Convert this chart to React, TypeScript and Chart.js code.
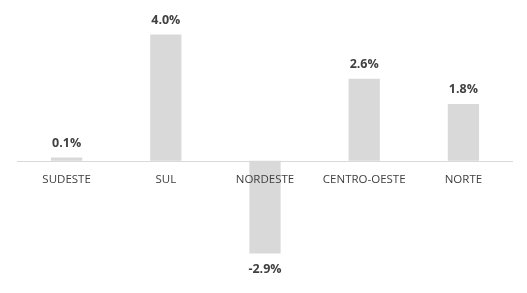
import React, { useEffect, useRef } from "react";
import { Chart, registerables } from "chart.js";

Chart.register(...registerables);

const categories = ["SUDESTE", "SUL", "NORDESTE", "CENTRO-OESTE", "NORTE"];
const values = [0.1, 4.0, -2.94, 2.6, 1.8];
const valueLabels = ["0.1%", "4.0%", "-2.9%", "2.6%", "1.8%"];

const FONT = "'Open Sans', 'Noto Sans', sans-serif";
const TEXT = "#404040";

const labelPlugin = {
  id: "labelPlugin",
  beforeDatasetsDraw(chart: any) {
    const { ctx, chartArea, scales } = chart;
    const y0 = Math.round(scales.y.getPixelForValue(0)) + 0.5;
    ctx.save();
    ctx.strokeStyle = "#d9d9d9";
    ctx.lineWidth = 1;
    ctx.beginPath();
    ctx.moveTo(chartArea.left, y0);
    ctx.lineTo(chartArea.right, y0);
    ctx.stroke();
    ctx.restore();
  },
  afterDatasetsDraw(chart: any) {
    const { ctx, scales } = chart;
    const meta = chart.getDatasetMeta(0);
    const y0 = scales.y.getPixelForValue(0);
    ctx.save();
    ctx.fillStyle = TEXT;
    ctx.textAlign = "center";
    meta.data.forEach((bar: any, i: number) => {
      const v = values[i];
      ctx.font = `bold 12.5px ${FONT}`;
      if (v >= 0) {
        ctx.textBaseline = "bottom";
        ctx.fillText(valueLabels[i], bar.x, bar.y - 8);
      } else {
        ctx.textBaseline = "top";
        ctx.fillText(valueLabels[i], bar.x, bar.y + 10);
      }
      ctx.font = `11.5px ${FONT}`;
      ctx.textBaseline = "middle";
      ctx.fillText(categories[i], bar.x, y0 + 19);
    });
    ctx.restore();
  },
};

export default function App() {
  const ref = useRef<HTMLCanvasElement>(null);
  useEffect(() => {
    if (!ref.current) return;
    const chart = new Chart(ref.current, {
      type: "bar",
      data: {
        labels: categories,
        datasets: [
          {
            data: values,
            backgroundColor: "#d9d9d9",
            borderWidth: 0,
            barPercentage: 0.315,
            categoryPercentage: 1,
          },
        ],
      },
      options: {
        animation: false,
        responsive: false,
        maintainAspectRatio: false,
        layout: { padding: { left: 17, right: 14, top: 3, bottom: 6 } },
        plugins: { legend: { display: false }, tooltip: { enabled: false } },
        scales: {
          x: { display: false },
          y: { display: false, min: -4, max: 5 },
        },
      },
      plugins: [labelPlugin],
    });
    return () => chart.destroy();
  }, []);
  return (
    <div style={{ position: "fixed", left: 0, top: 0, width: 527, height: 293, background: "#fff" }}>
      <canvas ref={ref} width={527} height={293} style={{ width: 527, height: 293 }} />
    </div>
  );
}
